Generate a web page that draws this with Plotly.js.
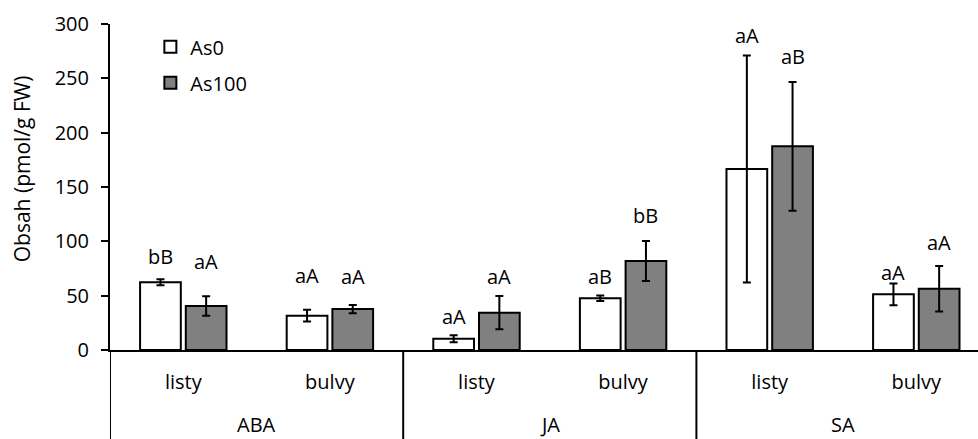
<!DOCTYPE html>
<html>
<head>
<meta charset="utf-8">
<script src="https://cdn.plot.ly/plotly-3.0.1.min.js"></script>
<style>html,body{margin:0;padding:0;background:#fff;}#chart{width:978px;height:439px;}</style>
</head>
<body>
<div id="chart"></div>
<script>
// ---- data ----
const groups = ['ABA', 'JA', 'SA'];
const organs = ['listy', 'bulvy'];
const seriesNames = ['As0', 'As100'];
const as0Values = [62.3, 31.6, 10.4, 47.6, 166.6, 51.2];
const as0Errors = [2.8, 5.4, 3.2, 2.5, 104.5, 10.0];
const as100Values = [40.5, 37.7, 34.3, 81.9, 187.4, 56.4];
const as100Errors = [9.0, 3.8, 15.3, 18.3, 59.2, 21.0];
const as0Letters = ['bB', 'aA', 'aA', 'aB', 'aA', 'aA'];
const as0LetterY = [86.2, 69.0, 30.7, 68.0, 289.0, 71.2];
const as100Letters = ['aA', 'aA', 'aA', 'bB', 'aB', 'aA'];
const as100LetterY = [81.3, 67.5, 67.5, 124.2, 270.5, 98.7];
const yTitle = 'Obsah (pmol/g FW)';

// ---- build ----
const FONT = 'Open Sans, Noto Sans, sans-serif';
const FS = 20;
const xIdx = [];
const tickText = [];
for (let g = 0; g < groups.length; g++) {
  for (let o = 0; o < organs.length; o++) {
    xIdx.push(g * organs.length + o);
    tickText.push(organs[o]);
  }
}
const BARGAP = 0.3765, BARGROUPGAP = 0.109;
const half = (1 - BARGAP) / 4; // offset of each bar centre from category centre

const err = (arr) => ({type: 'data', array: arr, visible: true, color: '#000', thickness: 2, width: 4});
const traces = [
  {type: 'bar', name: seriesNames[0], x: xIdx, y: as0Values, error_y: err(as0Errors),
   marker: {color: '#ffffff', line: {color: '#000', width: 2}}, legendgroup: 'a'},
  {type: 'bar', name: seriesNames[1], x: xIdx, y: as100Values, error_y: err(as100Errors),
   marker: {color: '#808080', line: {color: '#000', width: 2}}, legendgroup: 'b'}
];

const annotations = [];
xIdx.forEach((xi, i) => {
  annotations.push({x: xi - half, y: as0LetterY[i], xref: 'x', yref: 'y', text: as0Letters[i],
    showarrow: false, yanchor: 'middle', font: {family: FONT, size: FS, color: '#000'}});
  annotations.push({x: xi + half, y: as100LetterY[i], xref: 'x', yref: 'y', text: as100Letters[i],
    showarrow: false, yanchor: 'middle', font: {family: FONT, size: FS, color: '#000'}});
});
groups.forEach((g, gi) => {
  annotations.push({x: gi * organs.length + (organs.length - 1) / 2, y: -0.2285, xref: 'x', yref: 'paper',
    text: g, showarrow: false, yanchor: 'middle', font: {family: FONT, size: FS, color: '#000'}});
});
annotations.push({x: -0.1017, y: 0.5567, xref: 'paper', yref: 'paper', text: yTitle, textangle: -90,
  showarrow: false, xanchor: 'center', yanchor: 'middle', font: {family: FONT, size: 21, color: '#000'}});

const shapes = [];
for (let gi = 0; gi < groups.length; gi++) {
  const xb = gi * organs.length - 0.5;
  shapes.push({type: 'line', xref: 'x', yref: 'paper', x0: xb, x1: xb, y0: 0, y1: -0.3,
    line: {color: '#000', width: 2}});
}

const layout = {
  width: 978, height: 439,
  margin: {l: 110, r: 0, t: 24, b: 89, pad: 0},
  paper_bgcolor: '#fff', plot_bgcolor: '#fff',
  barmode: 'group', bargap: BARGAP, bargroupgap: BARGROUPGAP,
  showlegend: true,
  legend: {x: 0.0465, y: 0.99, xanchor: 'left', yanchor: 'top', traceorder: 'grouped', tracegroupgap: 7,
    bgcolor: 'rgba(0,0,0,0)', font: {family: FONT, size: FS, color: '#000'}},
  font: {family: FONT, size: FS, color: '#000'},
  xaxis: {range: [-0.5, -0.5 + 868 / 146.6], tickmode: 'array', tickvals: xIdx, ticktext: tickText,
    ticks: '', showline: true, linecolor: '#000', linewidth: 2, showgrid: false, zeroline: false,
    ticklabelstandoff: 13, tickfont: {family: FONT, size: FS, color: '#000'}, fixedrange: true},
  yaxis: {range: [0, 300], dtick: 50, tick0: 0, ticks: 'outside', ticklen: 7, tickwidth: 2, tickcolor: '#000',
    showline: true, linecolor: '#000', linewidth: 2, showgrid: false, zeroline: false,
    ticklabelstandoff: 8, tickfont: {family: FONT, size: FS, color: '#000'}, fixedrange: true},
  annotations: annotations,
  shapes: shapes
};

Plotly.newPlot('chart', traces, layout, {displayModeBar: false, staticPlot: true});
</script>
</body>
</html>
